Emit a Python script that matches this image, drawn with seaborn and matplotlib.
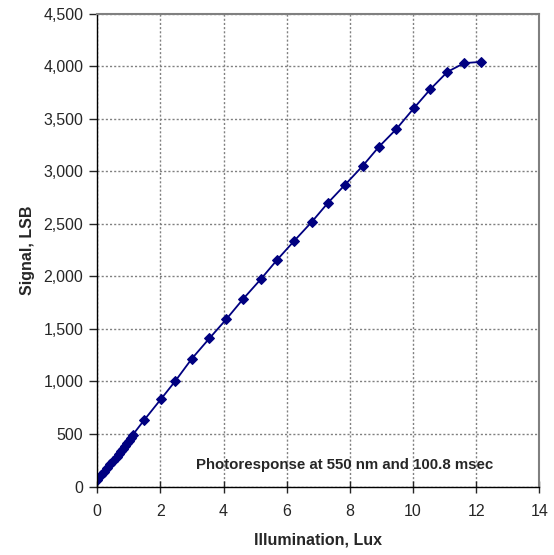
import matplotlib
matplotlib.use("Agg")
import matplotlib.pyplot as plt
import matplotlib.ticker as mticker
import seaborn as sns
import pandas as pd

illumination = [0, 0.12, 0.21, 0.31, 0.40, 0.50, 0.62, 0.69, 0.75, 0.82, 0.88, 0.94, 1.00, 1.07, 1.13,
                1.49, 2.01, 2.46, 2.99, 3.55, 4.08, 4.62, 5.17, 5.69, 6.23, 6.80, 7.30, 7.85,
                8.40, 8.91, 9.47, 10.02, 10.55, 11.09, 11.62, 12.16]
signal = [65, 110, 140, 175, 215, 245, 285, 310, 335, 360, 385, 410, 430, 460, 495,
          635, 830, 1000, 1215, 1410, 1590, 1785, 1970, 2155, 2335, 2520, 2697, 2872,
          3048, 3229, 3400, 3597, 3780, 3945, 4028, 4040]
x_ticks = [0, 2, 4, 6, 8, 10, 12, 14]
y_ticks = [0, 500, 1000, 1500, 2000, 2500, 3000, 3500, 4000, 4500]
annotation = "Photoresponse at 550 nm and 100.8 msec"

df = pd.DataFrame({"Illumination": illumination, "Signal": signal})

sns.set_style("white")
plt.rcParams["font.family"] = ["Liberation Sans", "DejaVu Sans"]

fig = plt.figure(figsize=(5.54, 5.55), dpi=100)
ax = fig.add_axes([97.3 / 554, (555 - 486.6) / 555, (539.3 - 97.3) / 554, (486.6 - 13.5) / 555])

sns.lineplot(data=df, x="Illumination", y="Signal", ax=ax, color="#000080", linewidth=1.3,
             marker="D", markersize=5, markeredgecolor="#000080", sort=False)

ax.set_xlim(0, 14)
ax.set_ylim(0, 4500)
ax.set_xticks(x_ticks)
ax.set_yticks(y_ticks)
ax.yaxis.set_major_formatter(mticker.FuncFormatter(lambda v, p: f"{int(v):,}"))

ax.grid(True, color="#808080", linestyle=(0, (1.5, 1.5)), linewidth=1.0)
ax.set_axisbelow(True)

for s in ["top", "right"]:
    ax.spines[s].set_color("#808080")
    ax.spines[s].set_linewidth(1.5)
for s in ["left", "bottom"]:
    ax.spines[s].set_color("black")
    ax.spines[s].set_linewidth(1.0)

ax.tick_params(axis="x", direction="inout", length=8.5, width=1, labelsize=11.5, pad=8, bottom=True)
ax.tick_params(axis="y", direction="out", length=6, width=1, labelsize=11.5, pad=4, left=True)

ax.set_xlabel("Illumination, Lux", fontsize=11.5, fontweight="bold", labelpad=10)
ax.set_ylabel("Signal, LSB", fontsize=11.5, fontweight="bold", labelpad=6)

ax.text(0.224, 0.046, annotation, transform=ax.transAxes, fontsize=10.8, fontweight="bold",
        ha="left", va="center")

fig.savefig("out.png", dpi=100)
